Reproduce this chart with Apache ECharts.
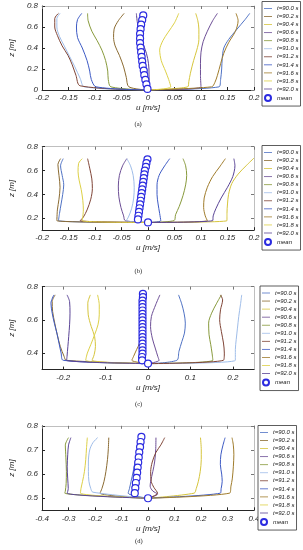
<!DOCTYPE html>
<html><head><meta charset="utf-8">
<script src="https://cdn.jsdelivr.net/npm/echarts@6/dist/echarts.min.js"></script>
<style>html,body{margin:0;padding:0;background:#fff}#c{width:303px;height:550px}</style>
</head><body><div id="c"></div>
<script>
// ---- legend names / colours ----
const times = ['t=90.0 s','t=90.2 s','t=90.4 s','t=90.6 s','t=90.8 s','t=91.0 s','t=91.2 s','t=91.4 s','t=91.6 s','t=91.8 s','t=92.0 s'];
const colors = ['#4f72c4','#8b6b32','#d6c53c','#6d4f96','#889a3c','#9fbde9','#7f4436','#3d5ac4','#a07c2c','#ddd046','#5a4496'];
const meanName = 'mean';

// ---- tick labels ----
const xTicksA = [-0.2,-0.15,-0.1,-0.05,0,0.05,0.1,0.15,0.2];
const yTicksA = [0,0.2,0.4,0.6,0.8];
const xTicksB = [-0.2,-0.15,-0.1,-0.05,0,0.05,0.1,0.15,0.2];
const yTicksB = [0.2,0.4,0.6,0.8];
const xTicksC = [-0.2,-0.1,0,0.1,0.2];
const yTicksC = [0.4,0.6,0.8];
const xTicksD = [-0.4,-0.3,-0.2,-0.1,0,0.1,0.2,0.3,0.4];
const yTicksD = [0.5,0.6,0.7,0.8];

// ---- panel (a) profiles [u, z], ordered as times ----
const profA = [
 [[0.192,0.73],[0.183,0.67],[0.168,0.58],[0.152,0.48],[0.143,0.40],[0.140,0.30],[0.139,0.20],[0.137,0.10],[0.134,0.03],[0,0]],
 [[-0.045,0.73],[-0.056,0.66],[-0.064,0.58],[-0.065,0.50],[-0.062,0.42],[-0.054,0.33],[-0.046,0.22],[-0.041,0.12],[-0.036,0.03],[0,0]],
 [[0.090,0.73],[0.094,0.66],[0.096,0.58],[0.096,0.48],[0.092,0.38],[0.086,0.28],[0.080,0.16],[0.077,0.08],[0.075,0.03],[0,0]],
 [[0.131,0.73],[0.122,0.66],[0.112,0.56],[0.104,0.46],[0.100,0.36],[0.099,0.25],[0.099,0.14],[0.100,0.03],[0,0]],
 [[-0.114,0.73],[-0.113,0.66],[-0.106,0.56],[-0.096,0.47],[-0.087,0.38],[-0.080,0.28],[-0.076,0.18],[-0.075,0.10],[-0.070,0.03],[0,0]],
 [[-0.166,0.73],[-0.172,0.68],[-0.172,0.60],[-0.167,0.51],[-0.158,0.42],[-0.148,0.32],[-0.138,0.22],[-0.128,0.11],[-0.120,0.03],[0,0]],
 [[-0.169,0.73],[-0.176,0.68],[-0.176,0.60],[-0.171,0.52],[-0.162,0.42],[-0.151,0.33],[-0.143,0.24],[-0.136,0.14],[-0.128,0.04],[0,0]],
 [[-0.125,0.73],[-0.133,0.67],[-0.135,0.60],[-0.133,0.50],[-0.124,0.40],[-0.115,0.28],[-0.110,0.18],[-0.107,0.10],[-0.098,0.03],[0,0]],
 [[0.166,0.73],[0.170,0.66],[0.165,0.56],[0.152,0.45],[0.143,0.35],[0.137,0.25],[0.131,0.14],[0.126,0.07],[0.120,0.03],[0,0]],
 [[0.058,0.73],[0.050,0.64],[0.038,0.55],[0.028,0.47],[0.022,0.38],[0.025,0.28],[0.033,0.18],[0.039,0.10],[0.043,0.03],[0,0]],
 [[-0.022,0.73],[-0.020,0.64],[-0.016,0.55],[-0.010,0.45],[-0.003,0.35],[0.001,0.25],[0.002,0.15],[0.002,0.06],[0,0]]
];
const meanA = [[-0.009,0.71],[-0.011,0.666],[-0.013,0.622],[-0.014,0.579],[-0.015,0.535],[-0.015,0.491],[-0.015,0.447],[-0.014,0.404],[-0.013,0.36],[-0.012,0.316],[-0.011,0.272],[-0.010,0.229],[-0.008,0.185],[-0.007,0.141],[-0.005,0.097],[-0.003,0.054],[-0.001,0.01]];

// ---- panel (b) ----
const profB = [
 [[-0.160,0.70],[-0.165,0.64],[-0.162,0.56],[-0.159,0.48],[-0.161,0.40],[-0.164,0.32],[-0.167,0.24],[-0.169,0.18],[0,0.165]],
 [[-0.165,0.70],[-0.170,0.65],[-0.168,0.56],[-0.166,0.46],[-0.168,0.36],[-0.171,0.27],[-0.172,0.18],[0,0.165]],
 [[0.200,0.705],[0.185,0.64],[0.170,0.57],[0.158,0.49],[0.152,0.40],[0.150,0.32],[0.149,0.24],[0.149,0.18],[0,0.165]],
 [[-0.040,0.70],[-0.048,0.64],[-0.054,0.56],[-0.056,0.47],[-0.055,0.38],[-0.051,0.29],[-0.046,0.22],[-0.043,0.18],[0,0.165]],
 [[0.066,0.70],[0.071,0.64],[0.073,0.56],[0.071,0.48],[0.066,0.39],[0.059,0.30],[0.052,0.23],[0.049,0.18],[0,0.165]],
 [[-0.040,0.70],[-0.033,0.64],[-0.028,0.56],[-0.026,0.46],[-0.027,0.37],[-0.031,0.28],[-0.037,0.21],[-0.041,0.18],[0,0.165]],
 [[-0.114,0.70],[-0.110,0.62],[-0.106,0.53],[-0.105,0.45],[-0.108,0.36],[-0.115,0.27],[-0.122,0.21],[-0.128,0.18],[0,0.165]],
 [[0.041,0.70],[0.030,0.63],[0.021,0.56],[0.017,0.48],[0.017,0.40],[0.019,0.32],[0.022,0.24],[0.024,0.18],[0,0.165]],
 [[0.146,0.70],[0.135,0.63],[0.122,0.55],[0.112,0.46],[0.106,0.37],[0.105,0.29],[0.108,0.22],[0.112,0.18],[0,0.165]],
 [[-0.124,0.70],[-0.131,0.66],[-0.132,0.59],[-0.130,0.52],[-0.126,0.44],[-0.123,0.35],[-0.122,0.27],[-0.124,0.18],[0,0.165]],
 [[0.162,0.70],[0.164,0.64],[0.160,0.55],[0.150,0.46],[0.138,0.37],[0.128,0.28],[0.123,0.22],[0.122,0.18],[0,0.165]]
];
const meanB = [[-0.001,0.694],[-0.003,0.662],[-0.004,0.631],[-0.006,0.599],[-0.007,0.568],[-0.008,0.536],[-0.009,0.505],[-0.010,0.473],[-0.011,0.442],[-0.012,0.410],[-0.013,0.379],[-0.014,0.347],[-0.015,0.316],[-0.016,0.284],[-0.017,0.253],[-0.018,0.221],[-0.019,0.19],[0,0.165]];

// ---- panel (c) ----
const profC = [
 [[0.072,0.75],[0.079,0.70],[0.085,0.64],[0.088,0.58],[0.086,0.52],[0.080,0.47],[0.073,0.41],[0.068,0.356],[0,0.336]],
 [[-0.219,0.75],[-0.226,0.71],[-0.225,0.65],[-0.220,0.58],[-0.214,0.51],[-0.207,0.44],[-0.198,0.38],[-0.193,0.356],[0,0.336]],
 [[-0.136,0.75],[-0.142,0.70],[-0.141,0.63],[-0.134,0.56],[-0.126,0.50],[-0.124,0.44],[-0.127,0.39],[-0.132,0.356],[0,0.336]],
 [[0.028,0.75],[0.018,0.69],[0.008,0.62],[0.006,0.56],[0.010,0.49],[0.017,0.43],[0.023,0.38],[0.026,0.356],[0,0.336]],
 [[0.173,0.75],[0.162,0.70],[0.150,0.64],[0.143,0.58],[0.144,0.51],[0.148,0.45],[0.151,0.40],[0.153,0.356],[0,0.336]],
 [[0.221,0.75],[0.218,0.69],[0.214,0.62],[0.211,0.55],[0.208,0.48],[0.206,0.42],[0.206,0.356],[0,0.336]],
 [[0.171,0.75],[0.176,0.72],[0.171,0.66],[0.169,0.60],[0.173,0.53],[0.178,0.46],[0.180,0.40],[0.178,0.356],[0,0.336]],
 [[-0.222,0.75],[-0.229,0.70],[-0.226,0.64],[-0.221,0.58],[-0.215,0.52],[-0.210,0.46],[-0.205,0.40],[-0.200,0.356],[0,0.336]],
 [[-0.020,0.75],[-0.016,0.68],[-0.014,0.60],[-0.015,0.52],[-0.020,0.46],[-0.027,0.42],[-0.034,0.38],[-0.038,0.356],[0,0.336]],
 [[-0.119,0.75],[-0.115,0.69],[-0.115,0.63],[-0.118,0.57],[-0.126,0.51],[-0.135,0.45],[-0.143,0.40],[-0.147,0.356],[0,0.336]],
 [[-0.191,0.75],[-0.185,0.71],[-0.184,0.64],[-0.185,0.57],[-0.187,0.50],[-0.189,0.44],[-0.191,0.38],[-0.192,0.356],[0,0.336]]
];
const meanC = [[-0.012,0.756],[-0.012,0.736],[-0.013,0.716],[-0.013,0.696],[-0.013,0.676],[-0.013,0.656],[-0.013,0.636],[-0.013,0.616],[-0.013,0.596],[-0.013,0.576],[-0.013,0.556],[-0.013,0.536],[-0.013,0.516],[-0.013,0.496],[-0.013,0.476],[-0.013,0.456],[-0.013,0.436],[-0.013,0.416],[-0.013,0.396],[-0.014,0.376],[-0.014,0.356],[0,0.336]];

// ---- panel (d) ----
const profD = [
 [[-0.030,0.75],[-0.038,0.71],[-0.047,0.66],[-0.056,0.61],[-0.064,0.57],[-0.070,0.54],[-0.075,0.521],[0,0.50]],
 [[-0.148,0.751],[-0.150,0.70],[-0.153,0.66],[-0.159,0.61],[-0.166,0.57],[-0.174,0.54],[-0.181,0.521],[0,0.50]],
 [[0.198,0.751],[0.201,0.70],[0.201,0.66],[0.197,0.61],[0.190,0.57],[0.182,0.54],[0.174,0.521],[0,0.50]],
 [[0.030,0.751],[0.029,0.70],[0.025,0.65],[0.018,0.61],[0.010,0.57],[0.008,0.55],[0.018,0.53],[0.036,0.517],[0,0.50]],
 [[-0.300,0.751],[-0.312,0.72],[-0.310,0.67],[-0.308,0.61],[-0.309,0.56],[-0.312,0.53],[-0.314,0.521],[0,0.50]],
 [[-0.190,0.751],[-0.208,0.73],[-0.220,0.70],[-0.225,0.65],[-0.225,0.61],[-0.223,0.57],[-0.216,0.54],[-0.208,0.525],[0,0.50]],
 [[0.063,0.751],[0.048,0.72],[0.030,0.69],[0.016,0.65],[0.010,0.61],[0.012,0.57],[0.022,0.545],[0.036,0.521],[0,0.50]],
 [[0.291,0.751],[0.283,0.72],[0.275,0.68],[0.273,0.64],[0.278,0.60],[0.280,0.57],[0.276,0.54],[0.273,0.521],[0,0.50]],
 [[0.317,0.751],[0.322,0.72],[0.324,0.68],[0.322,0.63],[0.318,0.58],[0.313,0.55],[0.308,0.521],[0,0.50]],
 [[-0.229,0.751],[-0.232,0.71],[-0.235,0.66],[-0.240,0.61],[-0.247,0.57],[-0.253,0.54],[-0.255,0.521],[0,0.50]],
 [[-0.291,0.751],[-0.300,0.72],[-0.303,0.68],[-0.305,0.63],[-0.303,0.58],[-0.301,0.54],[-0.305,0.521],[0,0.50]]
];
const meanD = [[-0.025,0.754],[-0.028,0.733],[-0.030,0.712],[-0.033,0.690],[-0.035,0.669],[-0.037,0.648],[-0.039,0.627],[-0.041,0.606],[-0.043,0.584],[-0.046,0.563],[-0.048,0.542],[-0.050,0.521],[0,0.50]];

// ---- layout ----
const panels = [
 {prof:profA, mean:meanA, xt:xTicksA, yt:yTicksA, xmin:-0.2, xmax:0.2, ymin:0, ymax:0.8, left:27, top:6, width:227, height:84, legTop:1.5, legLeft:262, cap:'(a)', capY:125},
 {prof:profB, mean:meanB, xt:xTicksB, yt:yTicksB, xmin:-0.2, xmax:0.2, ymin:0.1, ymax:0.8, left:27, top:146.7, width:227, height:83.5, legTop:145.5, legLeft:262, cap:'(b)', capY:271.5},
 {prof:profC, mean:meanC, xt:xTicksC, yt:yTicksC, xmin:-0.25, xmax:0.25, ymin:0.3, ymax:0.8, left:28, top:286.6, width:226, height:83, legTop:286, legLeft:260, cap:'(c)', capY:404.5},
 {prof:profD, mean:meanD, xt:xTicksD, yt:yTicksD, xmin:-0.4, xmax:0.4, ymin:0.45, ymax:0.8, left:28, top:425.8, width:226, height:84.5, legTop:425.5, legLeft:258, cap:'(d)', capY:541.5}
];

const dark = '#262626';
const labelFont = {fontSize:8, fontStyle:'italic', fontFamily:'Liberation Sans', color:dark};
const grids = [], xAxes = [], yAxes = [], series = [], legends = [], graphics = [];
const meanColor = '#2b2be0';

panels.forEach((p, k) => {
  grids.push({left:p.left, top:p.top, width:p.width, height:p.height, containLabel:false});
  xAxes.push({type:'value', gridIndex:k, position:'bottom', min:p.xmin, max:p.xmax,
    name:'u [m/s]', nameLocation:'middle', nameGap:14, nameTextStyle:labelFont,
    axisLine:{show:true, onZero:false, lineStyle:{color:dark, width:1}},
    axisTick:{show:true, inside:true, length:3, customValues:p.xt, lineStyle:{color:dark}},
    axisLabel:{show:true, customValues:p.xt, margin:4, ...labelFont},
    splitLine:{show:false}});
  xAxes.push({type:'value', gridIndex:k, position:'top', min:p.xmin, max:p.xmax,
    axisLine:{show:true, onZero:false, lineStyle:{color:'#bfbfbf', width:1}},
    axisTick:{show:true, inside:true, length:3, customValues:p.xt, lineStyle:{color:'#777'}},
    axisLabel:{show:false}, splitLine:{show:false}});
  yAxes.push({type:'value', gridIndex:k, position:'left', min:p.ymin, max:p.ymax,
    name:'z [m]', nameLocation:'middle', nameGap:18, nameRotate:90, nameTextStyle:labelFont,
    axisLine:{show:true, onZero:false, lineStyle:{color:dark, width:1}},
    axisTick:{show:true, inside:true, length:3, customValues:p.yt, lineStyle:{color:dark}},
    axisLabel:{show:true, customValues:p.yt, margin:4, ...labelFont},
    splitLine:{show:false}});
  yAxes.push({type:'value', gridIndex:k, position:'right', min:p.ymin, max:p.ymax,
    axisLine:{show:true, onZero:false, lineStyle:{color:'#bfbfbf', width:1}},
    axisTick:{show:true, inside:true, length:3, customValues:p.yt, lineStyle:{color:'#777'}},
    axisLabel:{show:false}, splitLine:{show:false}});
  p.prof.forEach((d, i) => {
    series.push({type:'line', name:times[i], xAxisIndex:2*k, yAxisIndex:2*k, data:d,
      symbol:'none', showSymbol:false, smooth:0.3, clip:true, silent:true,
      lineStyle:{width:1, color:colors[i]}, itemStyle:{color:colors[i]}, z:2});
  });
  series.push({type:'scatter', name:meanName, xAxisIndex:2*k, yAxisIndex:2*k, data:p.mean,
    symbol:'circle', symbolSize:7, silent:true,
    itemStyle:{color:'#ffffff', borderColor:meanColor, borderWidth:1.2, opacity:1}, z:5});
  legends.push({show:true, orient:'vertical', left:p.legLeft, top:p.legTop,
    data:times.map((t, i) => ({name:t, icon:'path://M0,0H10V1H0Z', itemStyle:{color:colors[i]}}))
      .concat([{name:meanName, icon:'emptyCircle',
        itemStyle:{color:meanColor, borderColor:meanColor, borderWidth:1.2}}]),
    itemWidth:8, itemHeight:6, itemGap:2.05, padding:[4,2,4,2],
    borderColor:'#333', borderWidth:0.8, backgroundColor:'#fff', selectedMode:false,
    textStyle:{fontSize:6, fontStyle:'italic', fontFamily:'Liberation Sans', color:'#222'}});
  graphics.push({type:'text', left: p.left + p.width/2 - 6, top: p.capY - 4,
    style:{text:p.cap, fontSize:6.5, fontFamily:'Liberation Serif', fill:'#222'}});
});

const chart = echarts.init(document.getElementById('c'), null, {renderer:'canvas'});
chart.setOption({
  animation:false, backgroundColor:'#fff',
  grid:grids, xAxis:xAxes, yAxis:yAxes, series:series, legend:legends, graphic:graphics
});
</script></body></html>
